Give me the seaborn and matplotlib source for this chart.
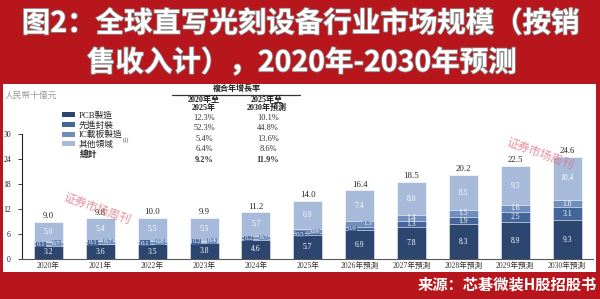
import matplotlib
matplotlib.use("Agg")
import matplotlib.pyplot as plt
import matplotlib.patheffects as pe
from matplotlib.patches import Patch, Rectangle
from matplotlib.lines import Line2D
import numpy as np
import pandas as pd
import seaborn as sns

years = ["2020年", "2021年", "2022年", "2023年", "2024年", "2025年",
         "2026年預測", "2027年預測", "2028年預測", "2029年預測", "2030年預測"]
pcb = [3.2, 3.6, 3.5, 3.8, 4.6, 5.7, 6.9, 7.8, 8.3, 8.9, 9.3]
adv_pack = [0.1, 0.1, 0.1, 0.2, 0.2, 0.5, 0.9, 1.3, 1.9, 2.5, 3.1]
ic_sub = [0.7, 0.7, 0.8, 0.4, 0.7, 0.9, 1.3, 1.4, 1.5, 1.6, 1.8]
other = [5.0, 5.4, 5.5, 5.5, 5.7, 6.9, 7.4, 8.0, 8.5, 9.3, 10.4]
totals = [9.0, 9.8, 10.0, 9.9, 11.2, 14.0, 16.4, 18.5, 20.2, 22.5, 24.6]

series_names = ["PCB製造", "先進封裝", "IC載板製造", "其他領域"]
cagr_2020_2025 = ["12.3%", "52.3%", "5.4%", "6.4%", "9.2%"]
cagr_2025_2030 = ["10.1%", "44.8%", "13.6%", "8.6%", "11.9%"]

colors = ["#2c4670", "#44659a", "#6f8dbd", "#a8bad9"]
RED = "#b8161d"
SERIF = ["Liberation Serif", "Noto Sans CJK TC"]
CJK = ["Noto Sans CJK SC", "DejaVu Sans"]

W, H = 600, 299


def fx(x):
    return x / W


def fy(y):
    return 1 - y / H


def main():
    sns.set_theme(style="white")
    plt.rcParams["font.family"] = SERIF

    fig = plt.figure(figsize=(6, 2.99), dpi=100, facecolor=RED)
    fig.patches.append(Rectangle((fx(3), fy(272)), fx(593), (272 - 84) / H,
                                 transform=fig.transFigure, facecolor="white",
                                 edgecolor="none", zorder=-5))

    ax = fig.add_axes([fx(22), fy(259), fx(571), (259 - 134.3) / H])
    ax.set_facecolor("white")
    ax.patch.set_alpha(0)

    df = pd.DataFrame({"year": years, "pcb": pcb, "adv": adv_pack,
                       "ic": ic_sub, "other": other})
    levels = [df["pcb"],
              df["pcb"] + df["adv"],
              df["pcb"] + df["adv"] + df["ic"],
              df["pcb"] + df["adv"] + df["ic"] + df["other"]]
    # draw tallest first so each lower stack sits on top
    for lvl, col in zip(levels[::-1], colors[::-1]):
        sns.barplot(x=df["year"], y=lvl, color=col, width=0.56, ax=ax,
                    edgecolor="white", linewidth=0.4, saturation=1)

    ax.set_xlim(-0.51, 10.5)
    ax.set_ylim(0, 30)
    ax.set_yticks(np.arange(0, 31, 6))
    ax.set_xlabel("")
    ax.set_ylabel("")
    for s in ["top", "right"]:
        ax.spines[s].set_visible(False)
    ax.spines["left"].set_color("#222222")
    ax.spines["left"].set_linewidth(0.8)
    ax.spines["bottom"].set_color("#555555")
    ax.spines["bottom"].set_linewidth(0.8)
    ax.tick_params(axis="y", length=3, width=0.6, direction="out", left=True,
                   labelsize=5.5, colors="#222222", pad=5)
    ax.tick_params(axis="x", length=0, labelsize=5.5, colors="#333333", pad=2)

    txt = dict(ha="center", va="center", fontsize=5.5, color="white")
    small = dict(ha="center", va="center", fontsize=5.0, color="white")
    for i in range(len(years)):
        p, a, c, o = pcb[i], adv_pack[i], ic_sub[i], other[i]
        ax.text(i, p / 2, f"{p:.1f}", **txt)
        ax.text(i, p + a + c + o / 2, f"{o:.1f}", **txt)
        ax.text(i, totals[i] + 0.4, f"{totals[i]:.1f}", ha="center", va="bottom",
                fontsize=6.3, color="#222222")
        if i <= 6:
            ly = max(p + a / 2, p + 0.3)
            ry = max(p + a + c / 2, p + 0.6)
            ax.text(i - 0.14, ly, f"{a:.1f}", **small,
                    bbox=dict(boxstyle="square,pad=0.05", fc=colors[1], ec="none"))
            ax.text(i + 0.15, ry, f"{c:.1f}", **small,
                    bbox=dict(boxstyle="square,pad=0.05", fc=colors[2], ec="none"))
        else:
            ax.text(i, p + a / 2, f"{a:.1f}", **txt)
            ax.text(i, p + a + c / 2, f"{c:.1f}", **txt)

    # legend
    handles = [Patch(facecolor=c, edgecolor="none") for c in colors]
    ax.legend(handles, series_names, loc="upper left",
              bbox_to_anchor=(fx(58), fy(107)), bbox_transform=fig.transFigure,
              frameon=False, fontsize=6.3, handlelength=1.4, handleheight=0.55,
              labelspacing=0.14, borderpad=0, handletextpad=0.45)
    fig.text(fx(123), fy(140), "(1)", fontsize=4, ha="left", va="center",
             color="#333333")
    fig.text(fx(80), fy(154), "總計", fontsize=6.3, fontweight="bold",
             ha="left", va="center", color="#222222")

    # CAGR table
    fig.text(fx(237), fy(89), "複合年增長率", fontsize=5.8, fontweight="bold",
             ha="center", va="center", color="#222222")
    fig.add_artist(Line2D([fx(172), fx(300)], [fy(95), fy(95)], color="#333333",
                          lw=0.9, transform=fig.transFigure))
    fig.text(fx(204), fy(104), "2020年至\n2025年", fontsize=5.8, fontweight="bold",
             ha="center", va="center", linespacing=1.0, color="#222222")
    fig.text(fx(267), fy(104), "2025年至\n2030年預測", fontsize=5.8,
             fontweight="bold", ha="center", va="center", linespacing=1.0,
             color="#222222")
    row_y = [118, 128.5, 139, 149, 159.5]
    for k, y in enumerate(row_y):
        w = "bold" if k == 4 else "normal"
        fig.text(fx(204), fy(y), cagr_2020_2025[k], fontsize=6, fontweight=w,
                 ha="center", va="center", color="#333333")
        fig.text(fx(268), fy(y), cagr_2025_2030[k], fontsize=6, fontweight=w,
                 ha="center", va="center", color="#333333")

    fig.text(fx(5), fy(95), "人民幣十億元", fontsize=6.3, ha="left", va="center",
             color="#9a9a9a", style="italic")

    # watermark
    for (x, y) in [(97, 209), (540, 154)]:
        fig.text(fx(x), fy(y), "证券市场周刊", fontsize=8.5, rotation=-20,
                 ha="center", va="center", color="#e0707f", alpha=0.8,
                 family=CJK, zorder=5)

    # title banner
    stroke = [pe.withStroke(linewidth=1.2, foreground="#8a8a8a")]
    fig.text(fx(301), fy(24), "图2：全球直写光刻设备行业市场规模（按销", fontsize=20.5,
             fontweight="bold", color="white", ha="center", va="center",
             family=CJK, path_effects=stroke)
    fig.text(fx(302), fy(63), "售收入计），2020年-2030年预测", fontsize=20.5,
             fontweight="bold", color="white", ha="center", va="center",
             family=CJK, path_effects=stroke)
    fig.text(fx(597), fy(285), "来源：芯碁微装H股招股书", fontsize=11,
             fontweight="bold", color="white", ha="right", va="center",
             family=CJK)

    fig.savefig("out.png", dpi=100, facecolor=RED)


if __name__ == "__main__":
    main()
